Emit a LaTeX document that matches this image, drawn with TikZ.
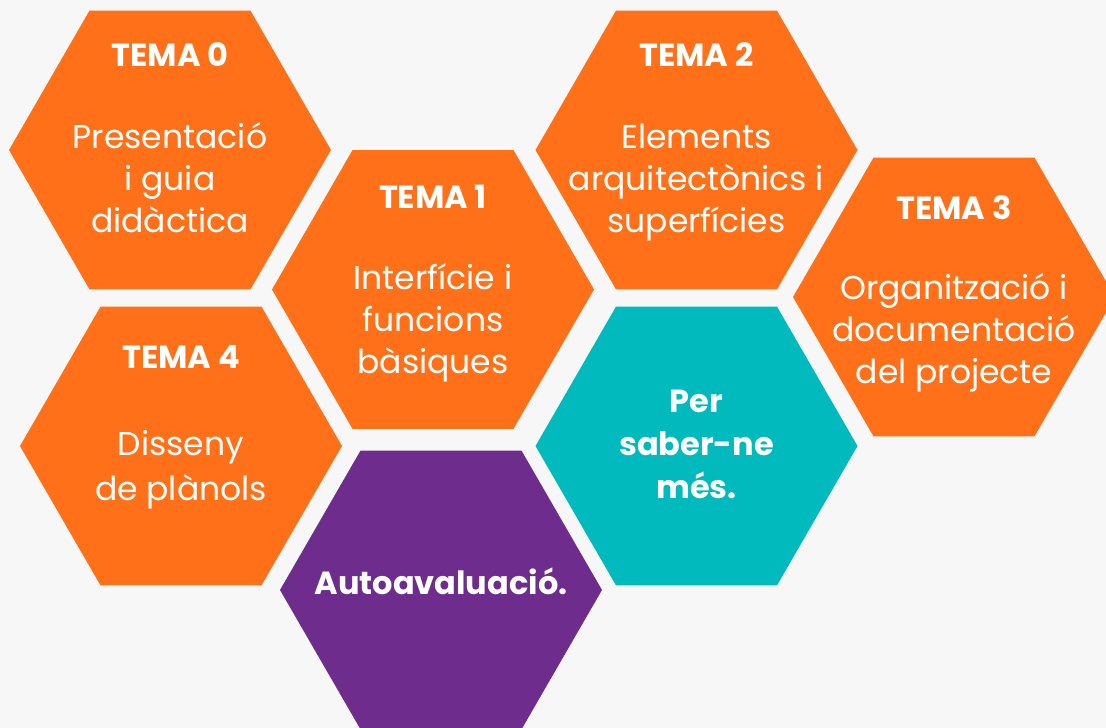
\documentclass[tikz,border=0pt]{standalone}
\usepackage{fontspec}
\setmainfont{Poppins}
\definecolor{bgc}{RGB}{247,247,247}
\definecolor{horange}{RGB}{255,112,24}
\definecolor{hteal}{RGB}{0,186,189}
\definecolor{hpurple}{RGB}{110,45,141}
\newcommand\hexpath[3]{\fill[#3] (#1-161,#2) -- (#1-80.5,#2-139.4) -- (#1+80.5,#2-139.4) -- (#1+161,#2) -- (#1+80.5,#2+139.4) -- (#1-80.5,#2+139.4) -- cycle;}
\begin{document}
\begin{tikzpicture}[x=1pt,y=-1pt,
  hd/.style={text=white,font=\bfseries\fontsize{32}{40}\selectfont,anchor=base,inner sep=0pt},
  bd/.style={text=white,align=center,font=\fontsize{33}{42}\selectfont,anchor=base,inner sep=0pt},
  bdb/.style={bd,font=\bfseries\fontsize{32}{43}\selectfont}]
\useasboundingbox (0,0) rectangle (1106,728);
\fill[bgc] (0,0) rectangle (1106,728);
\clip (0,0) rectangle (1106,728);
\hexpath{170}{150}{horange}
\hexpath{433}{289.5}{horange}
\hexpath{696.5}{150}{horange}
\hexpath{954}{297}{horange}
\hexpath{181}{446}{horange}
\hexpath{441}{590}{hpurple}
\hexpath{696.5}{446}{hteal}
\node[hd] (t0) at (170,66) {TEMA 0};
\node[bd] (b0) at (170,232) {Presentació\\i guia\\didàctica};
\node[hd] (t1) at (433,208) {TEMA 1};
\node[bd] (b1) at (433,373) {Interfície i\\funcions\\bàsiques};
\node[hd] (t2) at (696.5,66) {TEMA 2};
\node[bd] (b2) at (696.5,232) {Elements\\arquitectònics i\\superfícies};
\node[hd] (t3) at (954,219) {TEMA 3};
\node[bd] (b3) at (954,383) {Organització i\\documentació\\del projecte};
\node[hd] (t4) at (181,368) {TEMA 4};
\node[bd,font=\fontsize{33}{45}\selectfont] (b4) at (181,500) {Disseny\\de plànols};
\node[bdb] (auto) at (441,594) {Autoavaluació.};
\node[bdb] (mes) at (696.5,498) {Per\\saber-ne\\més.};
\end{tikzpicture}
\end{document}
